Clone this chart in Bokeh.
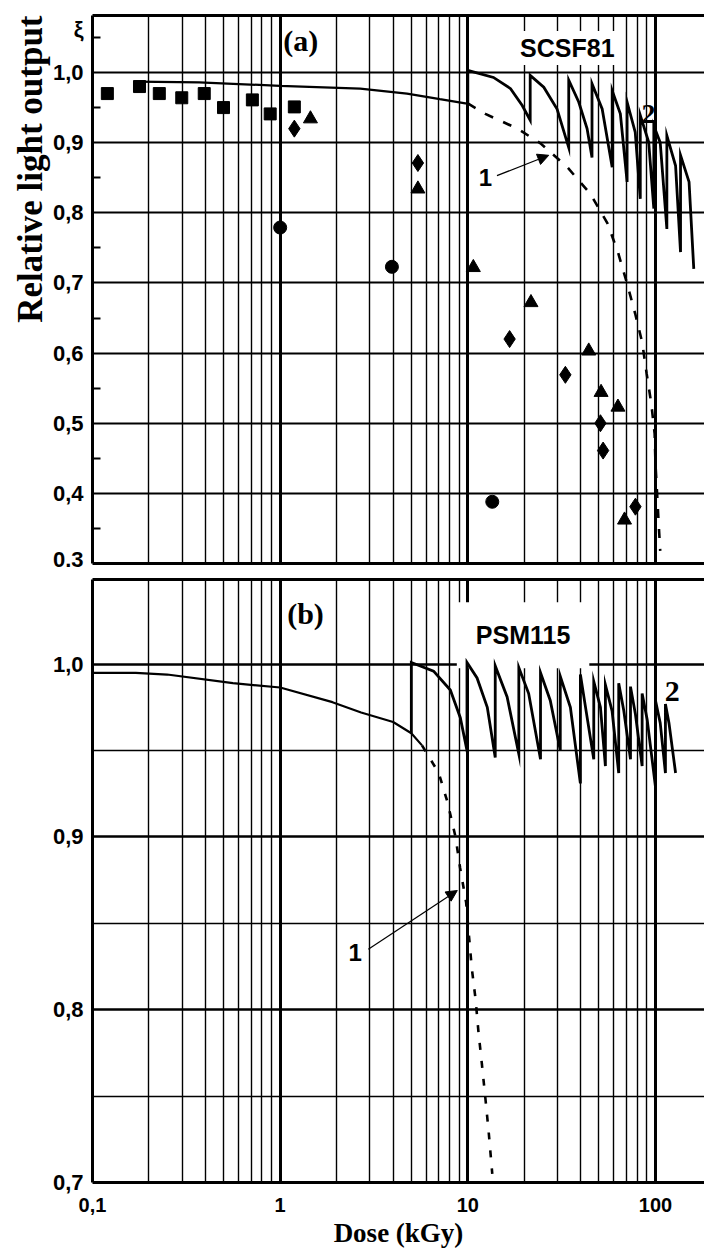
import math
from bokeh.plotting import figure
from bokeh.models import Range1d, LogAxis, FixedTicker, Label, Arrow, NormalHead
from bokeh.layouts import column
from bokeh.embed import file_html
from bokeh.resources import INLINE

# ---------------- data ----------------
x_grid_major = [1, 10, 100]
x_grid_minor = [0.2, 0.3, 0.4, 0.5, 0.6, 0.7, 0.8, 0.9,
                2, 3, 4, 5, 6, 7, 8, 9,
                20, 30, 40, 50, 60, 70, 80, 90]
x_tick_vals = [0.1, 1, 10, 100]
x_tick_text = ["0,1", "1", "10", "100"]

a_y_ticks = [0.3, 0.4, 0.5, 0.6, 0.7, 0.8, 0.9, 1.0]
a_y_text = ["0.3", "0,4", "0,5", "0,6", "0,7", "0,8", "0,9", "1,0"]
a_y_grid = [0.4, 0.5, 0.6, 0.7, 0.8, 0.9, 1.0]
a_y_minor = [0.35, 0.45, 0.55, 0.65, 0.75, 0.85, 0.95, 1.05]

b_y_ticks = [0.7, 0.8, 0.9, 1.0]
b_y_text = ["0,7", "0,8", "0,9", "1,0"]
b_y_grid = [0.8, 0.9, 1.0]
b_y_grid_minor = [0.75, 0.85, 0.95]

# panel (a) SCSF81 measured points
sq_x = [0.12, 0.178, 0.227, 0.299, 0.394, 0.499, 0.711, 0.885, 1.19]
sq_y = [0.970, 0.980, 0.970, 0.964, 0.970, 0.950, 0.961, 0.941, 0.951]
ci_x = [1.0, 3.94, 13.5]
ci_y = [0.779, 0.723, 0.388]
di_x = [1.19, 5.42, 16.7, 33.1, 50.9, 52.6, 78.2]
di_y = [0.920, 0.871, 0.620, 0.569, 0.500, 0.461, 0.381]
tr_x = [1.45, 5.42, 10.7, 21.7, 44.1, 51.3, 63.1, 68.4]
tr_y = [0.934, 0.834, 0.722, 0.672, 0.603, 0.544, 0.523, 0.362]

# panel (a) curve 1 (solid part, then dashed part)
a1_x = [0.17, 0.37, 1.0, 2.67, 4.74, 7.1, 9.7, 10.0]
a1_y = [0.987, 0.986, 0.981, 0.977, 0.970, 0.962, 0.956, 0.956]
a1d_x = [10.0, 12.4, 18.4, 24.4, 33.9, 45.0, 55.5, 63.4, 70.6, 78.0, 85.0,
         89.7, 95.0, 99.0, 100.0, 102.0, 104.0, 106.0]
a1d_y = [0.956, 0.941, 0.920, 0.899, 0.865, 0.827, 0.785, 0.742, 0.699, 0.656,
         0.615, 0.571, 0.528, 0.485, 0.442, 0.400, 0.357, 0.318]

# panel (a) curve 2 (sawtooth)
a2_x = [10, 10, 13.7, 16.9, 19.5, 21.5, 21.5, 25.4, 29.9, 34.5, 34.5, 39, 43.2, 45.9,
        45.9, 52, 58.8, 58.8, 65, 70.6, 70.6, 78, 83, 83, 92, 98, 98, 106, 115,
        115, 128, 136, 136, 151, 160]
a2_y = [0.956, 1.003, 0.993, 0.977, 0.953, 0.932, 0.996, 0.979, 0.948, 0.893, 0.989,
        0.958, 0.920, 0.879, 0.984, 0.948, 0.865, 0.974, 0.941, 0.844, 0.958, 0.915,
        0.820, 0.939, 0.901, 0.806, 0.924, 0.900, 0.777, 0.910, 0.867, 0.744, 0.882,
        0.844, 0.720]

# panel (b) curve 1
b1_x = [0.1, 0.17, 0.25, 0.56, 1.0, 1.9, 2.7, 4.0, 5.0, 5.7]
b1_y = [0.995, 0.995, 0.994, 0.989, 0.9865, 0.978, 0.972, 0.9665, 0.960, 0.953]
b1d_x = [5.7, 7.0, 7.8, 8.6, 9.1, 9.8, 10.1, 10.5, 11.0, 11.4, 11.9, 12.4, 12.9, 13.5]
b1d_y = [0.953, 0.937, 0.920, 0.900, 0.882, 0.862, 0.845, 0.824, 0.806, 0.787,
         0.768, 0.749, 0.730, 0.705]

# panel (b) curve 2 (sawtooth)
b2_x = [5, 5, 6.57, 8.07, 9.12, 9.9, 9.9, 11.2, 12.7, 14, 14, 16.2, 18.7, 18.7, 21.1,
        24.4, 24.4, 27.5, 31.1, 31.1, 35.2, 39.8, 39.8, 42.4, 46.9, 46.9, 50.9, 54.1,
        54.1, 58.7, 63.7, 63.7, 67.8, 73.6, 73.6, 78.2, 84.9, 84.9, 90.3, 100, 100,
        106, 113, 113, 118, 128]
b2_y = [0.960, 1.001, 0.996, 0.985, 0.969, 0.950, 1.001, 0.992, 0.975, 0.946, 0.999,
        0.981, 0.948, 0.998, 0.983, 0.945, 0.995, 0.979, 0.950, 0.993, 0.975, 0.931,
        0.994, 0.975, 0.945, 0.990, 0.975, 0.941, 0.988, 0.973, 0.937, 0.989, 0.973,
        0.945, 0.987, 0.971, 0.941, 0.983, 0.968, 0.929, 0.979, 0.966, 0.937, 0.977,
        0.966, 0.937]

X_MIN, X_MAX = 0.1, 182.5
A_Y = (0.3, 1.0813)
B_Y = (0.7, 1.049)
XI_POS = 1.062

SANS = "Liberation Sans"
SERIF = "Liberation Serif"


def make_fig(height, yr, border_top, border_bottom, **kw):
    p = figure(width=704, height=height, x_axis_type="log",
               x_range=Range1d(X_MIN, X_MAX), y_range=Range1d(*yr),
               output_backend="svg", toolbar_location=None,
               min_border_left=92, min_border_right=0,
               min_border_top=border_top, min_border_bottom=border_bottom, **kw)
    p.outline_line_color = None
    p.background_fill_color = "white"
    p.border_fill_color = "white"
    xa = p.xaxis[0]
    ya = p.yaxis[0]
    p.xgrid.ticker = FixedTicker(ticks=x_grid_major, minor_ticks=x_grid_minor)
    p.xgrid.grid_line_color = "black"
    p.xgrid.grid_line_width = 3
    p.xgrid.minor_grid_line_color = "black"
    p.xgrid.minor_grid_line_width = 1.4
    top = LogAxis(ticker=FixedTicker(ticks=[]), axis_line_width=3,
                  major_tick_out=0, minor_tick_out=0, major_label_standoff=0)
    p.add_layout(top, "above")
    ya.axis_line_width = 3
    ya.major_tick_out = 0
    ya.major_tick_in = 0
    ya.minor_tick_out = 0
    ya.major_label_text_font = SANS
    ya.major_label_text_font_style = "bold"
    ya.major_label_text_font_size = "22px"
    ya.major_label_standoff = 9
    ya.major_label_text_color = "black"
    xa.axis_line_width = 3
    xa.major_tick_out = 0
    xa.major_tick_in = 0
    xa.minor_tick_out = 0
    xa.minor_tick_in = 0
    return p, xa, ya


# ---------------- panel (a) ----------------
pa, xa_a, ya_a = make_fig(571, A_Y, 15, 8, title="Relative light output",
                          title_location="left")
pa.title.align = "right"
pa.title.text_font = SERIF
pa.title.text_font_style = "bold"
pa.title.text_font_size = "35px"
pa.title.text_color = "black"
pa.title.standoff = 0

pa.ygrid.ticker = FixedTicker(ticks=a_y_grid)
pa.ygrid.grid_line_color = "black"
pa.ygrid.grid_line_width = 2.2
ya_a.ticker = FixedTicker(ticks=a_y_ticks + [XI_POS], minor_ticks=a_y_minor)
ya_a.major_label_overrides = dict(zip(a_y_ticks + [XI_POS], a_y_text + ["ξ"]))
ya_a.minor_tick_in = 8
ya_a.minor_tick_line_width = 2
xa_a.ticker = FixedTicker(ticks=[])
xa_a.major_label_standoff = 0

pa.add_layout(Label(x=33.9, y=1.035, text="SCSF81", text_font=SANS, text_font_style="bold",
                    text_font_size="25px", text_align="center", text_baseline="middle",
                    text_color="black", background_fill_color="white", padding=3,
                    level="underlay"))
pa.line(a1_x, a1_y, line_width=2.2, line_color="black")
pa.line(a1d_x, a1d_y, line_width=2.6, line_color="black", line_dash="9 11")
pa.line(a2_x, a2_y, line_width=2.8, line_color="black", line_join="miter")
pa.scatter(sq_x, sq_y, marker="square", size=12, color="black")
pa.scatter(ci_x, ci_y, marker="circle", size=13, color="black")
pa.scatter(di_x, di_y, marker="diamond", size=17, color="black")
pa.scatter(tr_x, tr_y, marker="triangle", size=14, color="black")

pa.add_layout(Label(x=1.04, y=1.0456, text="(a)", text_font=SERIF, text_font_style="bold",
                    text_font_size="30px", text_align="left", text_baseline="middle",
                    text_color="black"))
pa.add_layout(Label(x=12.4, y=0.850, text="1", text_font=SANS, text_font_style="bold",
                    text_font_size="24px", text_align="center", text_baseline="middle",
                    text_color="black"))
pa.add_layout(Label(x=91.8, y=0.941, text="2", text_font=SERIF, text_font_style="bold",
                    text_font_size="28px", text_align="center", text_baseline="middle",
                    text_color="black"))
pa.add_layout(Arrow(end=NormalHead(size=11, fill_color="black", line_color="black"),
                    x_start=14.3, y_start=0.853, x_end=27.0, y_end=0.882,
                    line_width=1.2, line_color="black"))

# ---------------- panel (b) ----------------
pb, xa_b, ya_b = make_fig(681, B_Y, 8, 70)
pb.ygrid.ticker = FixedTicker(ticks=b_y_grid, minor_ticks=b_y_grid_minor)
pb.ygrid.grid_line_color = "black"
pb.ygrid.grid_line_width = 2.6
pb.ygrid.minor_grid_line_color = "black"
pb.ygrid.minor_grid_line_width = 1.4
ya_b.ticker = FixedTicker(ticks=b_y_ticks)
ya_b.major_label_overrides = dict(zip(b_y_ticks, b_y_text))
xa_b.ticker = FixedTicker(ticks=x_tick_vals)
xa_b.major_label_overrides = dict(zip(x_tick_vals, x_tick_text))
xa_b.major_label_text_font = SANS
xa_b.major_label_text_font_style = "bold"
xa_b.major_label_text_font_size = "20px"
xa_b.major_label_standoff = 15
xa_b.major_label_text_color = "black"
xa_b.axis_label = "Dose (kGy)"
xa_b.axis_label_text_font = SERIF
xa_b.axis_label_text_font_style = "bold"
xa_b.axis_label_text_font_size = "27px"
xa_b.axis_label_standoff = 3
xa_b.axis_label_text_color = "black"

pb.add_layout(Label(x=19.7, y=1.0168, text="PSM115", text_font=SANS, text_font_style="bold",
                    text_font_size="25px", text_align="center", text_baseline="middle",
                    text_color="black", background_fill_color="white", padding=19,
                    level="underlay"))
pb.line(b1_x, b1_y, line_width=2.2, line_color="black")
pb.line(b1d_x, b1d_y, line_width=2.6, line_color="black", line_dash="7 11")
pb.line(b2_x, b2_y, line_width=2.8, line_color="black", line_join="miter")

pb.add_layout(Label(x=1.09, y=1.0295, text="(b)", text_font=SERIF, text_font_style="bold",
                    text_font_size="30px", text_align="left", text_baseline="middle",
                    text_color="black"))
pb.add_layout(Label(x=2.51, y=0.833, text="1", text_font=SANS, text_font_style="bold",
                    text_font_size="24px", text_align="center", text_baseline="middle",
                    text_color="black"))
pb.add_layout(Label(x=123, y=0.984, text="2", text_font=SERIF, text_font_style="bold",
                    text_font_size="30px", text_align="center", text_baseline="middle",
                    text_color="black"))
pb.add_layout(Arrow(end=NormalHead(size=11, fill_color="black", line_color="black"),
                    x_start=2.95, y_start=0.835, x_end=8.79, y_end=0.869,
                    line_width=1.2, line_color="black"))

layout = column(pa, pb, spacing=0)
open("out.html", "w").write(file_html(layout, INLINE))
